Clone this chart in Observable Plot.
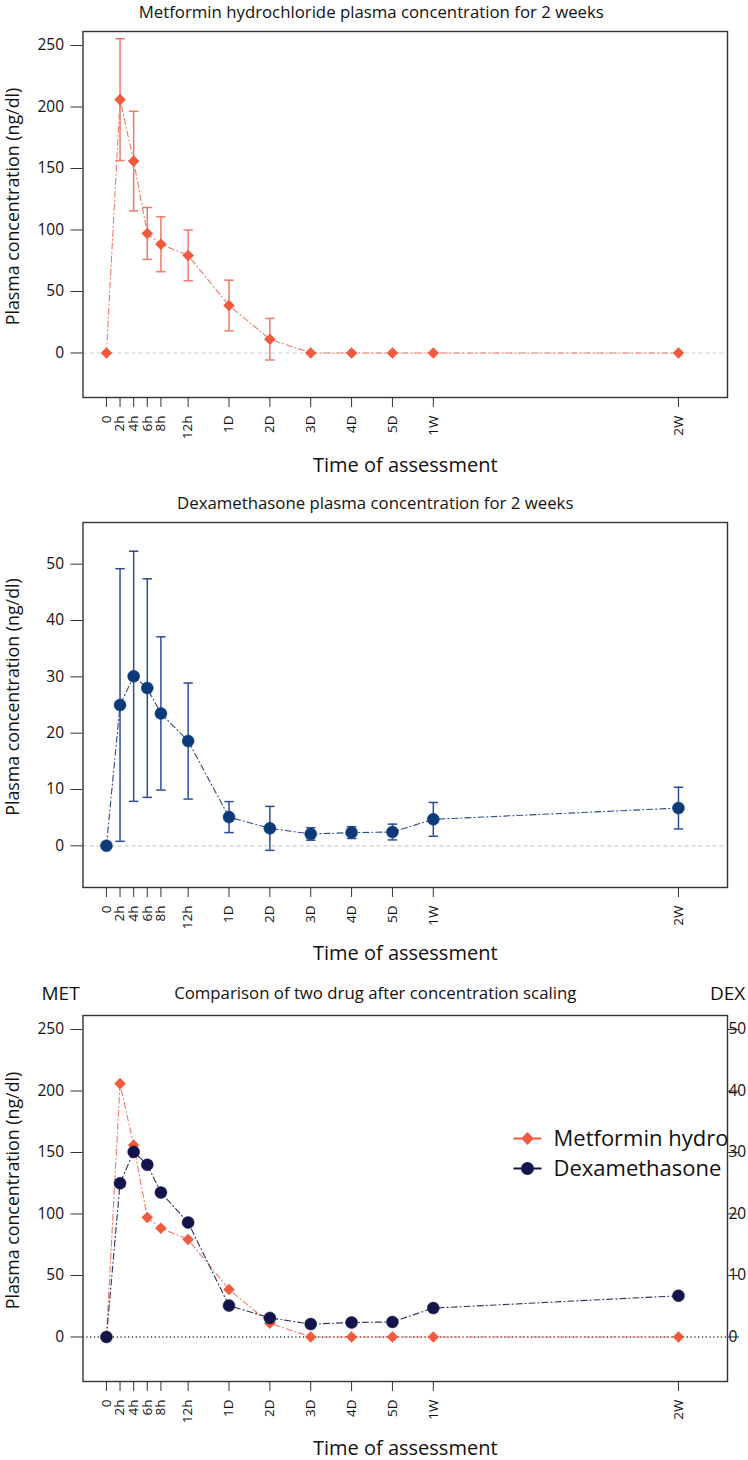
<!DOCTYPE html>
<html><head><meta charset="utf-8">
<script src="https://cdn.jsdelivr.net/npm/d3@7"></script>
<script src="https://cdn.jsdelivr.net/npm/@observablehq/plot@0.6"></script>
<style>
body{margin:0;background:#fff;}
#wrap{position:relative;width:748px;height:1460px;overflow:hidden;background:#fff;}
#wrap svg{position:absolute;left:0;max-width:none;}
</style>
</head><body><div id="wrap"></div>
<script>
// ---- data ----
const timeLabels = ["0","2h","4h","6h","8h","12h","1D","2D","3D","4D","5D","1W","2W"];
const timeIndex  = [0, 1, 2, 3, 4, 6, 9, 12, 15, 18, 21, 24, 42];
const metMean = [0, 206, 156, 97.2, 88.4, 79.3, 38.6, 11.2, 0, 0, 0, 0, 0];
const metSD   = [0, 49.5, 40.5, 21.1, 22.3, 20.6, 20.6, 16.9, 0, 0, 0, 0, 0];
const dexMean = [0, 25.0, 30.1, 28.0, 23.5, 18.6, 5.1, 3.1, 2.1, 2.35, 2.45, 4.7, 6.7];
const dexSD   = [0, 24.2, 22.2, 19.4, 13.6, 10.3, 2.75, 3.9, 1.1, 1.05, 1.4, 3.0, 3.7];
const metTicks = [0, 50, 100, 150, 200, 250];
const dexTicks = [0, 10, 20, 30, 40, 50];
const dexScale = 5; // DEX right axis: 50 -> 250
const titles = [
  "Metformin hydrochloride plasma concentration for 2 weeks",
  "Dexamethasone plasma concentration for 2 weeks",
  "Comparison of two drug after concentration scaling"
];
const yLabel = "Plasma concentration (ng/dl)";
const xLabel = "Time of assessment";
const legendLabels = ["Metformin hydrochloride", "Dexamethasone"];

const rows = timeIndex.map((t, i) => ({
  t, label: timeLabels[i], met: metMean[i], metSD: metSD[i], dex: dexMean[i], dexSD: dexSD[i]
}));
const metErr = rows.filter(d => d.metSD > 0);
const dexErr = rows.filter(d => d.dexSD > 0);

// ---- styles ----
const FONT = "'Open Sans', 'Liberation Sans', sans-serif";
const MET_COL = "#EF5A40", MET_LINE = "#F07A66";
const DEX_COL = "#0C3A78", DEX_BAR = "#2C4C9A", DEX_LINE = "#2F4B86";
const DEX3_COL = "#12144A", DEX3_LINE = "#30305E";
const dashDot = "6,3,1,3";
const capSymbol = { draw(ctx, size) { const w = Math.sqrt(size / Math.PI); ctx.moveTo(-w, 0); ctx.lineTo(w, 0); } };
const legMet = { draw(ctx, size) {
  const r = Math.sqrt(size / Math.PI); ctx.moveTo(-14, 0); ctx.lineTo(14, 0);
  ctx.moveTo(0, -r); ctx.lineTo(r, 0); ctx.lineTo(0, r); ctx.lineTo(-r, 0); ctx.closePath(); } };
const legDex = { draw(ctx, size) {
  const r = Math.sqrt(size / Math.PI); ctx.moveTo(-14, 0); ctx.lineTo(-r, 0); ctx.moveTo(r, 0); ctx.lineTo(14, 0);
  ctx.moveTo(r, 0); ctx.arc(0, 0, r, 0, 2 * Math.PI); } };

const xDomain = [-1.72, 45.6];
const tickFmt = d => timeLabels[timeIndex.indexOf(d)];
const T = {lineAnchor: "middle", fill: "#111"};

function common(xLabDy) {
  return [
    Plot.frame({stroke: "#333", strokeWidth: 1.4}),
    Plot.axisX({ticks: timeIndex, tickFormat: tickFmt, tickRotate: -90, tickSize: 10, tickPadding: 8,
      textAnchor: "end", lineAnchor: "middle", fontSize: 13.5, label: null, stroke: "#333"}),
    Plot.text([yLabel], {...T, frameAnchor: "left", textAnchor: "middle", rotate: -90, dx: -69.5, dy: -8, fontSize: 17.8}),
    Plot.text([xLabel], {...T, frameAnchor: "bottom", textAnchor: "middle", dy: xLabDy, fontSize: 20})
  ];
}

function mk(top, height, mt, mb, yDomain, marks) {
  const svg = Plot.plot({
    width: 748, height, marginLeft: 82.5, marginRight: 21, marginTop: mt, marginBottom: mb,
    x: {domain: xDomain}, y: {domain: yDomain},
    style: {fontFamily: FONT, background: "white", overflow: "visible", color: "#111"},
    marks
  });
  svg.style.top = top + "px";
  document.getElementById("wrap").appendChild(svg);
}

// Panel 1: Metformin
mk(0, 480, 31, 83, [-36.2, 261.4], [
  Plot.ruleY([0], {stroke: "#cfcfcf", strokeDasharray: "4,3", strokeWidth: 1.2}),
  Plot.line(rows, {x: "t", y: "met", stroke: MET_LINE, strokeWidth: 1.1, strokeDasharray: dashDot}),
  Plot.ruleX(metErr, {x: "t", y1: d => d.met - d.metSD, y2: d => d.met + d.metSD, stroke: MET_LINE, strokeWidth: 1.5}),
  Plot.dot(metErr, {x: "t", y: d => d.met + d.metSD, symbol: capSymbol, r: 4.7, stroke: MET_LINE, strokeWidth: 1.5}),
  Plot.dot(metErr, {x: "t", y: d => d.met - d.metSD, symbol: capSymbol, r: 4.7, stroke: MET_LINE, strokeWidth: 1.5}),
  Plot.dot(rows, {x: "t", y: "met", symbol: "diamond2", r: 5, fill: MET_COL, stroke: MET_COL, strokeWidth: 0.5}),
  Plot.axisY({ticks: metTicks, tickSize: 12, tickPadding: 7, fontSize: 15.5, label: null, stroke: "#333"}),
  Plot.text([titles[0]], {...T, frameAnchor: "top", textAnchor: "middle", dy: -19, dx: -34, fontSize: 16.8}),
  ...common(68)
]);

// Panel 2: Dexamethasone
mk(480, 485, 42, 78, [-7.4, 57.4], [
  Plot.ruleY([0], {stroke: "#cfcfcf", strokeDasharray: "4,3", strokeWidth: 1.2}),
  Plot.line(rows, {x: "t", y: "dex", stroke: DEX_LINE, strokeWidth: 1.1, strokeDasharray: dashDot}),
  Plot.ruleX(dexErr, {x: "t", y1: d => d.dex - d.dexSD, y2: d => d.dex + d.dexSD, stroke: DEX_BAR, strokeWidth: 1.5}),
  Plot.dot(dexErr, {x: "t", y: d => d.dex + d.dexSD, symbol: capSymbol, r: 4.7, stroke: DEX_BAR, strokeWidth: 1.5}),
  Plot.dot(dexErr, {x: "t", y: d => d.dex - d.dexSD, symbol: capSymbol, r: 4.7, stroke: DEX_BAR, strokeWidth: 1.5}),
  Plot.dot(rows, {x: "t", y: "dex", r: 6, fill: DEX_COL, stroke: DEX_COL, strokeWidth: 0.5}),
  Plot.axisY({ticks: dexTicks, tickSize: 12, tickPadding: 7, fontSize: 15.5, label: null, stroke: "#333"}),
  Plot.text([titles[1]], {...T, frameAnchor: "top", textAnchor: "middle", dy: -19.3, dx: -30, fontSize: 16.8}),
  ...common(66)
]);

// Panel 3: comparison
mk(965, 495, 50, 79, [-36.2, 261.4], [
  Plot.ruleY([0], {stroke: "#333", strokeDasharray: "1.2,2.6", strokeWidth: 1.3}),
  Plot.line(rows, {x: "t", y: "met", stroke: MET_LINE, strokeWidth: 1.1, strokeDasharray: dashDot}),
  Plot.line(rows, {x: "t", y: d => d.dex * dexScale, stroke: DEX3_LINE, strokeWidth: 1.1, strokeDasharray: dashDot}),
  Plot.dot(rows, {x: "t", y: "met", symbol: "diamond2", r: 5, fill: MET_COL, stroke: MET_COL, strokeWidth: 0.5}),
  Plot.dot(rows, {x: "t", y: d => d.dex * dexScale, r: 6, fill: DEX3_COL, stroke: DEX3_COL, strokeWidth: 0.5}),
  Plot.axisY({ticks: metTicks, tickSize: 12, tickPadding: 7, fontSize: 15.5, label: null, stroke: "#333"}),
  Plot.axisY(dexTicks.map(v => v * dexScale), {anchor: "right", tickFormat: d => d / dexScale, tickSize: 11,
    tickPadding: -10, fontSize: 15.5, label: null, stroke: "#333"}),
  Plot.text([titles[2]], {...T, frameAnchor: "top", textAnchor: "middle", dy: -22, dx: -30, fontSize: 16.8}),
  Plot.text(["MET"], {...T, frameAnchor: "top-left", dx: -41.5, dy: -22, textAnchor: "start", fontSize: 19}),
  Plot.text(["DEX"], {...T, frameAnchor: "top-right", dx: -17.5, dy: -22, textAnchor: "start", fontSize: 19}),
  Plot.dot([legendLabels[0]], {frameAnchor: "top-right", dx: -200, dy: 123, symbol: legMet, r: 5, fill: MET_COL, stroke: MET_COL, strokeWidth: 2}),
  Plot.dot([legendLabels[1]], {frameAnchor: "top-right", dx: -200, dy: 153, symbol: legDex, r: 5.5, fill: DEX3_COL, stroke: DEX3_COL, strokeWidth: 2}),
  Plot.text([legendLabels[0]], {...T, frameAnchor: "top-right", dx: -174, dy: 123, textAnchor: "start", fontSize: 22, clip: true}),
  Plot.text([legendLabels[1]], {...T, frameAnchor: "top-right", dx: -174, dy: 153, textAnchor: "start", fontSize: 22, clip: true}),
  ...common(67)
]);
</script>
</body></html>
